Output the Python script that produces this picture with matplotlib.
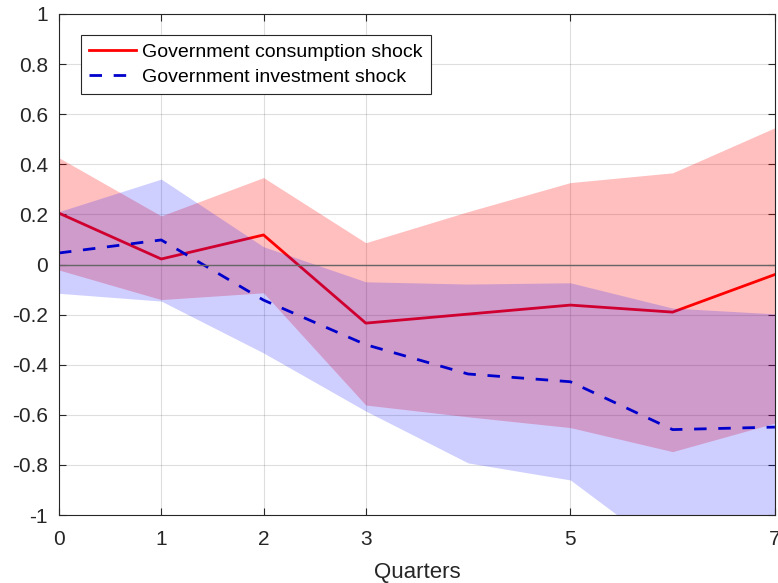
import matplotlib
matplotlib.use("Agg")
import matplotlib.pyplot as plt
from matplotlib.ticker import FixedLocator, FuncFormatter

plt.rcParams['font.family'] = ['Liberation Sans', 'DejaVu Sans']

quarters = [0, 1, 2, 3, 4, 5, 6, 7]
cons_mean = [0.205, 0.022, 0.118, -0.234, -0.198, -0.162, -0.190, -0.040]
cons_upper = [0.426, 0.194, 0.347, 0.087, 0.211, 0.327, 0.366, 0.546]
cons_lower = [-0.022, -0.140, -0.113, -0.561, -0.608, -0.651, -0.747, -0.633]
inv_mean = [0.046, 0.098, -0.142, -0.320, -0.437, -0.468, -0.659, -0.649]
inv_upper = [0.211, 0.341, 0.071, -0.069, -0.078, -0.073, -0.174, -0.197]
inv_lower = [-0.115, -0.146, -0.353, -0.585, -0.792, -0.860, -1.165, -1.200]
xticks = [0, 1, 2, 3, 5, 7]
yticks = [-1, -0.8, -0.6, -0.4, -0.2, 0, 0.2, 0.4, 0.6, 0.8, 1]
labels = ['Government consumption shock', 'Government investment shock']

fig = plt.figure(figsize=(7.78, 5.83), dpi=100)
ax = fig.add_axes([0.0758, 0.1166, 0.9202, 0.8594])

ax.fill_between(quarters, cons_lower, cons_upper, color=(1, 0, 0), alpha=0.25,
                linewidth=0, zorder=1)
l1, = ax.plot(quarters, cons_mean, color=(1, 0, 0), linewidth=2.0, zorder=2,
              label=labels[0])
ax.fill_between(quarters, inv_lower, inv_upper, color=(0, 0, 1), alpha=0.19,
                linewidth=0, zorder=3)
l2, = ax.plot(quarters, inv_mean, color=(0, 0, 0.8), linewidth=2.0, zorder=4,
              dashes=(4.5, 4.2), label=labels[1])
ax.axhline(0, color=(0.4, 0.4, 0.4), linewidth=1.0, zorder=5)

ax.set_xlim(0, 7)
ax.set_ylim(-1, 1)
ax.xaxis.set_major_locator(FixedLocator(xticks))
ax.yaxis.set_major_locator(FixedLocator(yticks))
ax.yaxis.set_major_formatter(FuncFormatter(
    lambda v, p: '0' if abs(v) < 1e-9 else ('%g' % v).replace('\u2212', '-')))
ax.xaxis.set_major_formatter(FuncFormatter(lambda v, p: '%g' % v))

ax.grid(True, color=(0.15, 0.15, 0.15), alpha=0.15, linewidth=0.8)
ax.set_axisbelow(True)
ax.tick_params(direction='in', top=True, right=True, length=5, width=0.8,
               colors=(0.15, 0.15, 0.15), labelsize=15)
ax.tick_params(axis='x', pad=11)
ax.tick_params(axis='y', pad=8)
for s in ax.spines.values():
    s.set_color((0.15, 0.15, 0.15))
    s.set_linewidth(0.8)
    s.set_zorder(6)

ax.set_xlabel('Quarters', fontsize=16, color=(0.15, 0.15, 0.15), labelpad=9)

leg = ax.legend(handles=[l1, l2], loc='upper left', bbox_to_anchor=(0.0303, 0.958),
                fontsize=14, frameon=True, fancybox=False, edgecolor=(0.15, 0.15, 0.15),
                framealpha=1, handlelength=2.45, handletextpad=0.3, borderpad=0.42,
                labelspacing=0.38, borderaxespad=0)
leg.get_frame().set_linewidth(0.8)
leg.set_zorder(10)

fig.savefig('out.png', dpi=100)
